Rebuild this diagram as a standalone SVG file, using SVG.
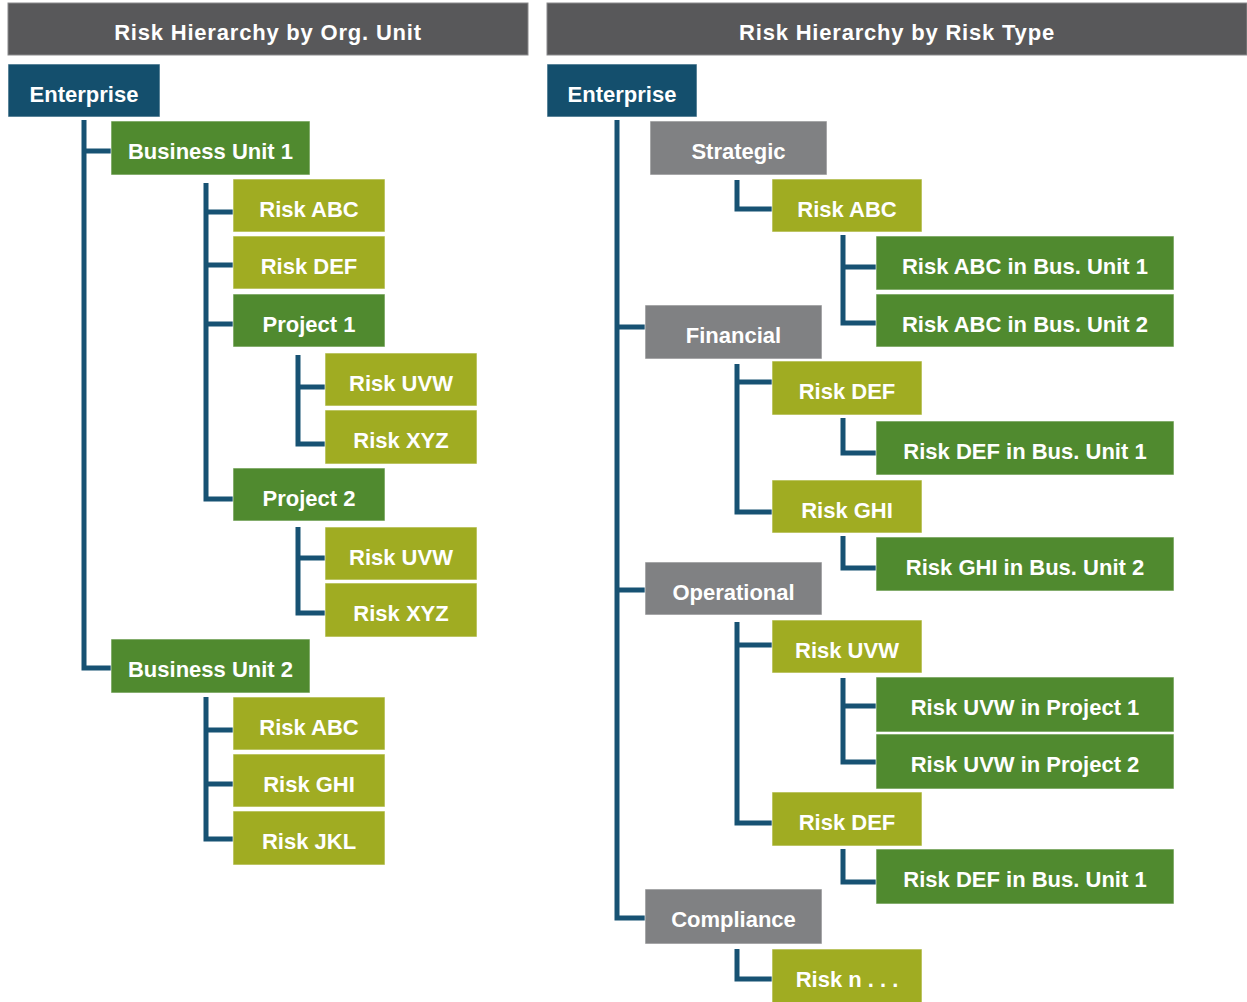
<svg xmlns="http://www.w3.org/2000/svg" width="1247" height="1002" viewBox="0 0 1247 1002">
  <style>
    .hdr { fill: #58585a; stroke: #8a8a8c; stroke-width: 1; }
    .box { stroke: #ffffff; stroke-opacity: 0.6; stroke-width: 1; }
    .ent { fill: #144f6d; }
    .dk { fill: #508a2f; }
    .ol { fill: #a0ac22; }
    .gy { fill: #808183; }
    text { font-family: "Liberation Sans", Arial, sans-serif; font-weight: bold; font-size: 22px; fill: #ffffff; text-anchor: middle; }
    .ht { letter-spacing: 0.8px; }
    .conn path { fill: none; stroke: #175273; stroke-width: 5; stroke-linejoin: miter; stroke-linecap: butt; }
  </style>

  <rect width="1247" height="1002" fill="#ffffff"/>

  <!-- Column headers -->
  <g id="header-org">
    <rect class="hdr" x="8" y="3" width="520" height="52"/>
    <text class="ht" x="268" y="40">Risk Hierarchy by Org. Unit</text>
  </g>
  <g id="header-type">
    <rect class="hdr" x="547" y="3" width="700" height="52"/>
    <text class="ht" x="897" y="40">Risk Hierarchy by Risk Type</text>
  </g>

  <!-- Tree connectors -->
  <g id="connectors" class="conn">
    <!-- org unit tree -->
    <path d="M84 120 V668 H111"/>
    <path d="M84 151 H111"/>
    <path d="M206 183 V499 H233"/>
    <path d="M206 212 H233 M206 265 H233 M206 324 H233"/>
    <path d="M298 355 V444 H325"/>
    <path d="M298 387 H325"/>
    <path d="M298 527 V613 H325"/>
    <path d="M298 558 H325"/>
    <path d="M206 697 V839 H233"/>
    <path d="M206 730 H233 M206 784 H233"/>
    <!-- risk type tree -->
    <path d="M617 120 V918 H645"/>
    <path d="M617 327 H645 M617 590 H645"/>
    <path d="M737 180 V209 H772"/>
    <path d="M843 235 V323 H876"/>
    <path d="M843 267 H876"/>
    <path d="M737 364 V512 H772"/>
    <path d="M737 382 H772"/>
    <path d="M843 418 V453 H876"/>
    <path d="M843 536 V568 H876"/>
    <path d="M737 622 V823 H772"/>
    <path d="M737 645 H772"/>
    <path d="M843 678 V762 H876"/>
    <path d="M843 706 H876"/>
    <path d="M843 849 V882 H876"/>
    <path d="M737 949 V979 H772"/>
  </g>

  <!-- Org unit tree nodes -->
  <g id="org-enterprise"><rect class="box ent" x="8" y="64" width="152" height="53"/><text x="84" y="101.5">Enterprise</text></g>
  <g id="org-bu1"><rect class="box dk" x="111" y="121" width="199" height="54"/><text x="210.5" y="159">Business Unit 1</text></g>
  <g id="org-bu1-abc"><rect class="box ol" x="233" y="179" width="152" height="53"/><text x="309" y="216.5">Risk ABC</text></g>
  <g id="org-bu1-def"><rect class="box ol" x="233" y="236" width="152" height="53"/><text x="309" y="273.5">Risk DEF</text></g>
  <g id="org-project1"><rect class="box dk" x="233" y="294" width="152" height="53"/><text x="309" y="331.5">Project 1</text></g>
  <g id="org-p1-uvw"><rect class="box ol" x="325" y="353" width="152" height="53"/><text x="401" y="390.5">Risk UVW</text></g>
  <g id="org-p1-xyz"><rect class="box ol" x="325" y="410" width="152" height="54"/><text x="401" y="447.5">Risk XYZ</text></g>
  <g id="org-project2"><rect class="box dk" x="233" y="468" width="152" height="53"/><text x="309" y="505.5">Project 2</text></g>
  <g id="org-p2-uvw"><rect class="box ol" x="325" y="527" width="152" height="53"/><text x="401" y="564.5">Risk UVW</text></g>
  <g id="org-p2-xyz"><rect class="box ol" x="325" y="583" width="152" height="54"/><text x="401" y="620.5">Risk XYZ</text></g>
  <g id="org-bu2"><rect class="box dk" x="111" y="639" width="199" height="54"/><text x="210.5" y="676.5">Business Unit 2</text></g>
  <g id="org-bu2-abc"><rect class="box ol" x="233" y="697" width="152" height="53"/><text x="309" y="734.5">Risk ABC</text></g>
  <g id="org-bu2-ghi"><rect class="box ol" x="233" y="754" width="152" height="53"/><text x="309" y="791.5">Risk GHI</text></g>
  <g id="org-bu2-jkl"><rect class="box ol" x="233" y="811" width="152" height="54"/><text x="309" y="848.5">Risk JKL</text></g>

  <!-- Risk type tree nodes -->
  <g id="type-enterprise"><rect class="box ent" x="547" y="64" width="150" height="53"/><text x="622" y="101.5">Enterprise</text></g>
  <g id="type-strategic"><rect class="box gy" x="650" y="121" width="177" height="54"/><text x="738.5" y="159">Strategic</text></g>
  <g id="type-str-abc"><rect class="box ol" x="772" y="179" width="150" height="53"/><text x="847" y="216.5">Risk ABC</text></g>
  <g id="type-abc-bu1"><rect class="box dk" x="876" y="236" width="298" height="54"/><text x="1025" y="273.5">Risk ABC in Bus. Unit 1</text></g>
  <g id="type-abc-bu2"><rect class="box dk" x="876" y="294" width="298" height="53"/><text x="1025" y="331.5">Risk ABC in Bus. Unit 2</text></g>
  <g id="type-financial"><rect class="box gy" x="645" y="305" width="177" height="54"/><text x="733.5" y="342.5">Financial</text></g>
  <g id="type-fin-def"><rect class="box ol" x="772" y="361" width="150" height="54"/><text x="847" y="398.5">Risk DEF</text></g>
  <g id="type-fin-def-bu1"><rect class="box dk" x="876" y="421" width="298" height="54"/><text x="1025" y="458.5">Risk DEF in Bus. Unit 1</text></g>
  <g id="type-fin-ghi"><rect class="box ol" x="772" y="480" width="150" height="53"/><text x="847" y="517.5">Risk GHI</text></g>
  <g id="type-ghi-bu2"><rect class="box dk" x="876" y="537" width="298" height="54"/><text x="1025" y="574.5">Risk GHI in Bus. Unit 2</text></g>
  <g id="type-operational"><rect class="box gy" x="645" y="562" width="177" height="53"/><text x="733.5" y="599.5">Operational</text></g>
  <g id="type-op-uvw"><rect class="box ol" x="772" y="620" width="150" height="53"/><text x="847" y="657.5">Risk UVW</text></g>
  <g id="type-uvw-p1"><rect class="box dk" x="876" y="677" width="298" height="55"/><text x="1025" y="714.5">Risk UVW in Project 1</text></g>
  <g id="type-uvw-p2"><rect class="box dk" x="876" y="734" width="298" height="55"/><text x="1025" y="771.5">Risk UVW in Project 2</text></g>
  <g id="type-op-def"><rect class="box ol" x="772" y="792" width="150" height="54"/><text x="847" y="829.5">Risk DEF</text></g>
  <g id="type-op-def-bu1"><rect class="box dk" x="876" y="849" width="298" height="55"/><text x="1025" y="886.5">Risk DEF in Bus. Unit 1</text></g>
  <g id="type-compliance"><rect class="box gy" x="645" y="889" width="177" height="55"/><text x="733.5" y="926.5">Compliance</text></g>
  <g id="type-comp-n"><rect class="box ol" x="772" y="949" width="150" height="60"/><text x="847" y="986.5">Risk n . . .</text></g>
</svg>
